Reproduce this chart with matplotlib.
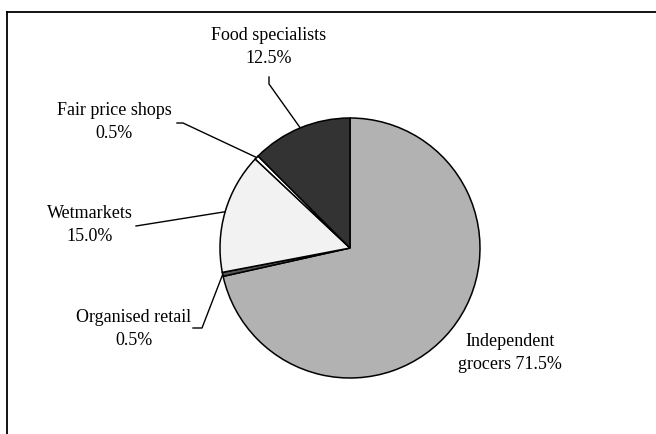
import numpy as np
import matplotlib.pyplot as plt
from matplotlib.lines import Line2D

# data, clockwise from 12 o'clock
labels = ["Independent\ngrocers 71.5%", "Organised retail\n0.5%", "Wetmarkets\n15.0%",
          "Fair price shops\n0.5%", "Food specialists\n12.5%"]
shares = [71.5, 0.5, 15.0, 0.5, 12.5]
colors = ["#b2b2b2", "#555555", "#f2f2f2", "#ffffff", "#333333"]

plt.rcParams['font.family'] = ['Liberation Serif', 'DejaVu Serif']

W, H = 656, 434
fig = plt.figure(figsize=(W / 100, H / 100), dpi=100)
ax = fig.add_axes([0, 0, 1, 1])

cx, cy, r = 350, H - 248, 130
wedges, _ = ax.pie(shares, colors=colors, startangle=90, counterclock=False,
                   center=(cx, cy), radius=r, frame=True,
                   wedgeprops=dict(edgecolor='black', linewidth=1.1))
ax.set_xlim(0, W)
ax.set_ylim(0, H)
ax.set_aspect('equal')
ax.axis('off')

# frame (left and top only)
fig.add_artist(Line2D([7 / W, 7 / W], [0, 1 - 12 / H], color='black', lw=1.3, transform=fig.transFigure))
fig.add_artist(Line2D([7 / W, 1], [1 - 12 / H, 1 - 12 / H], color='black', lw=1.3, transform=fig.transFigure))

def edge_point(w):
    a = np.deg2rad((w.theta1 + w.theta2) / 2)
    return cx + r * np.cos(a), cy + r * np.sin(a)

# text position (px, from top), leader path (px, from top) before wedge point
layout = {
    0: ((510, 353), None),
    1: ((134, 329), [(193, 328), (202, 328)]),
    2: ((90, 225), [(136, 226)]),
    3: ((114, 122), [(177, 123), (183, 123)]),
    4: ((269, 47), [(269, 77), (269, 84)]),
}

fs = 13
for i, w in enumerate(wedges):
    (tx, ty), path = layout[i]
    ax.text(tx, H - ty, labels[i], ha='center', va='center', fontsize=fs, linespacing=1.4)
    if path:
        ex, ey = edge_point(w)
        xs = [p[0] for p in path] + [ex]
        ys = [H - p[1] for p in path] + [ey]
        ax.plot(xs, ys, color='black', lw=1)

fig.savefig('out.png', dpi=100)
